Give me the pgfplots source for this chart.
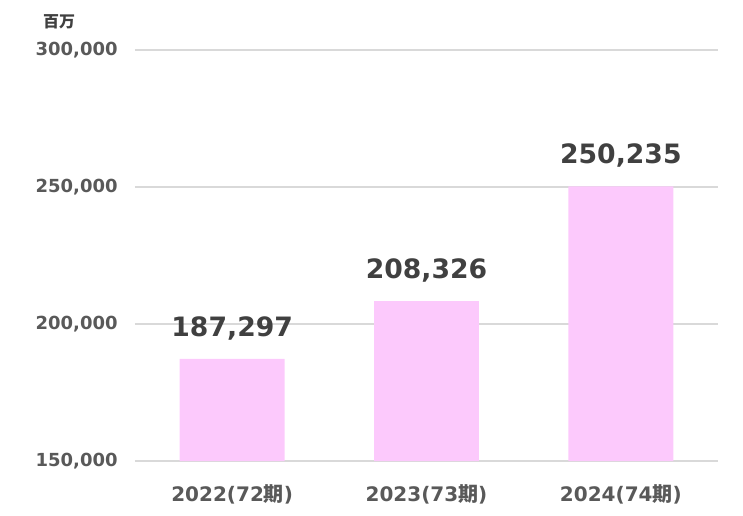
\documentclass[border=0pt]{standalone}
\usepackage{pgfplots}
\pgfplotsset{compat=1.18}
\usepackage{fontspec}
\setmainfont{DejaVu Sans}
\newfontfamily\cjk{Noto Sans CJK JP}
\definecolor{barpink}{HTML}{FCC9FC}
\definecolor{gridgray}{HTML}{D9D9D9}
\definecolor{ticktext}{HTML}{595959}
\definecolor{labeltext}{HTML}{404040}
\begin{document}
\begin{tikzpicture}[x=0.75pt,y=0.75pt]
\useasboundingbox (0,0) rectangle (743,515);
\begin{axis}[
    at={(135pt*0.75,54pt*0.75)}, anchor=south west,
    scale only axis,
    width=437.25pt, height=308.25pt,
    xmin=-0.5, xmax=2.5,
    ymin=150000, ymax=300000,
    ytick={150000,200000,250000,300000},
    yticklabels={{150,000},{200,000},{250,000},{300,000}},
    xtick=data,
    xticklabels={2022(72{\cjk 期}),2023(73{\cjk 期}),2024(74{\cjk 期})},
    ybar, bar width=0.54,
    axis x line*=bottom, axis y line*=left,
    x axis line style={draw=gridgray, line width=1.1pt},
    y axis line style={draw=none},
    ymajorgrids, grid style={gridgray, line width=1.1pt},
    major tick length=0pt,
    yticklabel style={font=\fontsize{13.5}{15}\selectfont\bfseries, text=ticktext, xshift=-9.5pt},
    xticklabel style={font=\fontsize{15}{17}\selectfont\bfseries, text=ticktext, yshift=-14pt},
    scaled y ticks=false,
    point meta=explicit symbolic,
    nodes near coords={\pgfplotspointmeta},
    every node near coord/.append style={font=\fontsize{20}{22}\selectfont\bfseries, text=labeltext, anchor=center, yshift=23pt},
    clip=false,
]
\addplot[fill=barpink, draw=none] coordinates {(0,187297) [187,297] (1,208326) [208,326] (2,250235) [250,235]};
\end{axis}
\node[font=\cjk\fontsize{12}{14}\selectfont\bfseries, text=labeltext] at (59,515-22) {百万};
\end{tikzpicture}
\end{document}
